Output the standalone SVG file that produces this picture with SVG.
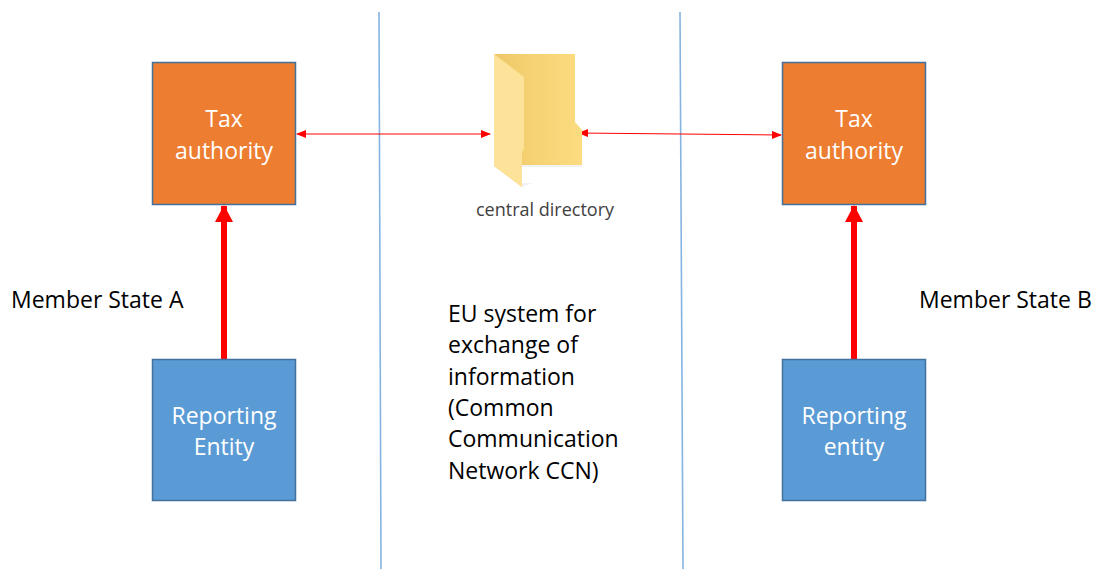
<svg xmlns="http://www.w3.org/2000/svg" width="1094" height="569" viewBox="0 0 1094 569">
<style>
text{font-family:"Open Sans","Noto Sans",sans-serif;font-size:23px;fill:#000}
.w{fill:#fff;text-anchor:middle}
.o{fill:#ed7d31;stroke:#41719c;stroke-width:1.500}
.b{fill:#5b9bd5;stroke:#41719c;stroke-width:1.500}
.d{fill:none;stroke:#86b4e2;stroke-width:1.600}
.r{fill:none;stroke:#f00;stroke-width:1}
.t{fill:none;stroke:#f00;stroke-width:6}
</style>
<defs>
<linearGradient id="g" x1="0" x2="1" y1="0" y2="0"><stop offset="0" stop-color="#efc868"/><stop offset="0.5" stop-color="#f6d375"/><stop offset="1" stop-color="#fcdc80"/></linearGradient>
<marker id="a" markerWidth="10" markerHeight="8" refX="9" refY="4" orient="auto-start-reverse" markerUnits="userSpaceOnUse"><path d="M0 0L10 4L0 8z" fill="#f00"/></marker>
<marker id="A" markerWidth="18" markerHeight="18" refX="16" refY="9" orient="auto" markerUnits="userSpaceOnUse"><path d="M0 0L17 9L0 18z" fill="#f00"/></marker>
</defs>
<g id="connectors">
<path class="d" d="M379 12L381 569"/>
<path class="d" d="M680 12L683 569"/>
<path class="r" d="M297 134H490" marker-start="url(#a)" marker-end="url(#a)"/>
<path class="r" d="M579 133L781 135" marker-start="url(#a)" marker-end="url(#a)"/>
<path class="t" d="M224 359V206" marker-end="url(#A)"/>
<path class="t" d="M854 359V206" marker-end="url(#A)"/>
</g>
<g id="tax-a"><rect class="o" x="152.500" y="62.500" width="143" height="142"/><text class="w" x="224" y="126.500">Tax</text><text class="w" x="224" y="158.500">authority</text></g>
<g id="tax-b"><rect class="o" x="782.500" y="62.500" width="143" height="142"/><text class="w" x="854" y="126.500">Tax</text><text class="w" x="854" y="158.500">authority</text></g>
<g id="entity-a"><rect class="b" x="152.500" y="359.500" width="143" height="141"/><text class="w" x="224" y="423.500">Reporting</text><text class="w" x="224" y="454.500">Entity</text></g>
<g id="entity-b"><rect class="b" x="782.500" y="359.500" width="143" height="141"/><text class="w" x="854" y="423.500">Reporting</text><text class="w" x="854" y="454.500">entity</text></g>
<g id="folder">
<path d="M522 165H582V167H522zM522 187L532 183H522z" fill="#f2f2f2"/>
<path d="M494 54H575V122L582 130V165H522V187L494 166z" fill="url(#g)"/>
<path d="M494 54L524 77V148L522 153V187L494 166z" fill="#fde299"/>
<text x="545" y="215.500" text-anchor="middle" style="font-size:18px;fill:#404040">central directory</text>
</g>
<g id="labels">
<text x="11" y="307.500">Member State A</text>
<text x="919" y="307.500">Member State B</text>
<text x="448" y="321.500">EU system for</text>
<text x="448" y="352.500">exchange of</text>
<text x="448" y="384.500">information</text>
<text x="448" y="415.500">(Common</text>
<text x="448" y="446.500">Communication</text>
<text x="448" y="478.500">Network CCN)</text>
</g>
</svg>
